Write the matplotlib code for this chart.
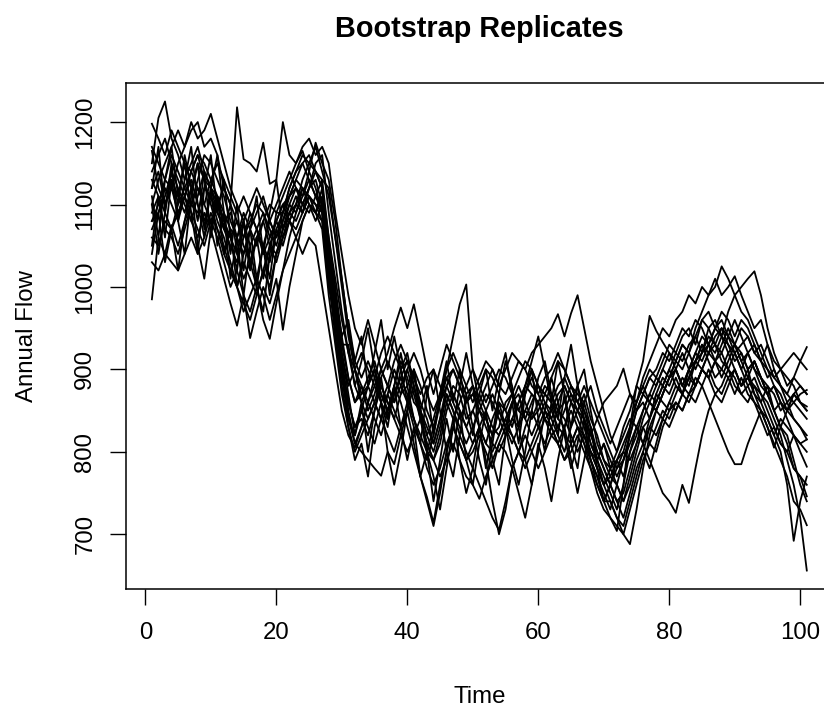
import matplotlib
matplotlib.use('Agg')
import matplotlib.pyplot as plt
import numpy as np

plt.rcParams['font.family'] = ['Liberation Sans', 'DejaVu Sans']

# time index 1..101
time = np.arange(1, 102)

# bootstrap replicates of annual flow (rows of 10 values)
rep01 = [1150, 1205, 1225, 1180, 1160, 1130, 1150, 1170, 1140, 1120,
         1090, 1075, 1060, 1040, 1010, 1030, 1060, 1050, 1030, 1070,
         1090, 1120, 1140, 1150, 1130, 1110, 1090, 1030, 980, 930,
         890, 860, 880, 850, 870, 900, 880, 860, 900, 920,
         880, 840, 800, 790, 820, 860, 880, 870, 840, 850,
         830, 810, 840, 860, 850, 830, 860, 880, 870, 860,
         840, 850, 870, 880, 860, 850, 870, 840, 820, 790,
         770, 760, 740, 770, 800, 830, 840, 860, 880, 870,
         890, 870, 890, 910, 920, 930, 920, 940, 930, 910,
         920, 900, 910, 890, 880, 870, 850, 860, 840, 830,
         820]
rep02 = [1080, 1100, 1130, 1120, 1150, 1170, 1190, 1200, 1170, 1180,
         1160, 1120, 1100, 1218, 1155, 1150, 1140, 1175, 1125, 1130,
         1200, 1160, 1150, 1165, 1140, 1175, 1150, 1130, 1080, 1010,
         950, 900, 870, 880, 900, 870, 850, 880, 910, 890,
         860, 850, 830, 810, 840, 880, 900, 880, 860, 870,
         850, 840, 820, 830, 860, 870, 850, 840, 860, 880,
         870, 860, 880, 890, 870, 860, 850, 830, 800, 780,
         760, 740, 750, 780, 810, 840, 860, 850, 870, 890,
         900, 880, 900, 920, 910, 930, 950, 940, 920, 930,
         910, 920, 900, 890, 870, 880, 860, 850, 870, 860,
         850]
rep03 = [985, 1060, 1040, 1075, 1050, 1080, 1100, 1090, 1120, 1110,
         1080, 1060, 1030, 1000, 980, 960, 990, 1020, 1000, 1040,
         1060, 1080, 1100, 1090, 1110, 1100, 1080, 1000, 960, 920,
         870, 820, 860, 800, 850, 890, 840, 880, 830, 790,
         830, 770, 800, 740, 790, 840, 800, 850, 790, 760,
         810, 850, 790, 760, 820, 860, 810, 870, 900, 840,
         800, 860, 820, 870, 810, 780, 840, 790, 760, 740,
         740, 720, 700, 730, 760, 790, 810, 800, 830, 850,
         860, 850, 870, 880, 900, 890, 910, 900, 890, 900,
         880, 890, 870, 860, 880, 850, 830, 820, 790, 760,
         740]
rep04 = [1198, 1180, 1160, 1190, 1170, 1150, 1140, 1160, 1150, 1130,
         1110, 1090, 1070, 1060, 1080, 1050, 1070, 1090, 1060, 1080,
         1100, 1110, 1130, 1120, 1100, 1090, 1110, 1050, 990, 940,
         960, 910, 940, 880, 920, 960, 900, 940, 900, 860,
         900, 850, 880, 820, 870, 910, 860, 900, 850, 820,
         870, 900, 850, 890, 920, 870, 830, 880, 910, 940,
         900, 860, 910, 870, 830, 880, 900, 850, 810, 790,
         780, 790, 770, 800, 820, 850, 870, 860, 880, 900,
         880, 870, 900, 910, 930, 920, 940, 950, 930, 920,
         930, 940, 920, 910, 900, 890, 880, 860, 870, 880,
         870]
rep05 = [1120, 1140, 1100, 1130, 1110, 1090, 1120, 1150, 1130, 1100,
         1070, 1050, 1020, 1000, 1030, 1010, 990, 1020, 1050, 1030,
         1060, 1090, 1080, 1100, 1120, 1130, 1100, 1020, 970, 900,
         860, 830, 850, 880, 860, 840, 870, 900, 880, 860,
         830, 810, 790, 820, 860, 900, 940, 979, 1003, 900,
         860, 840, 820, 850, 830, 860, 880, 860, 840, 850,
         870, 860, 840, 830, 860, 880, 850, 820, 800, 780,
         760, 790, 800, 830, 860, 880, 900, 890, 910, 930,
         920, 940, 950, 930, 960, 970, 950, 960, 940, 930,
         950, 940, 920, 930, 910, 890, 900, 910, 920, 910,
         927]
rep06 = [1060, 1050, 1080, 1070, 1090, 1110, 1080, 1060, 1090, 1070,
         1040, 1010, 980, 953, 990, 938, 970, 1000, 980, 1010,
         948, 1000, 1040, 1080, 1100, 1090, 1120, 1040, 980, 910,
         850, 810, 830, 860, 840, 820, 850, 880, 860, 830,
         800, 770, 745, 714, 760, 800, 830, 810, 790, 800,
         820, 800, 780, 810, 830, 820, 800, 830, 850, 830,
         810, 830, 850, 840, 820, 800, 820, 790, 770, 750,
         730, 760, 790, 820, 850, 860, 840, 870, 890, 880,
         900, 920, 900, 880, 900, 920, 930, 910, 900, 920,
         900, 880, 890, 870, 860, 840, 820, 790, 760, 720,
         656]
rep07 = [1090, 1110, 1070, 1060, 1040, 1070, 1100, 1120, 1100, 1080,
         1060, 1030, 1000, 1020, 990, 970, 1000, 960, 937, 980,
         1020, 1060, 1090, 1110, 1140, 1120, 1090, 1010, 950, 890,
         840, 820, 850, 830, 810, 840, 870, 850, 830, 850,
         880, 850, 820, 800, 830, 870, 850, 820, 800, 780,
         760, 740, 720, 705, 740, 780, 800, 790, 810, 830,
         850, 840, 820, 800, 830, 850, 840, 810, 790, 770,
         750, 730, 760, 800, 830, 810, 840, 870, 860, 850,
         870, 890, 880, 910, 930, 910, 890, 900, 920, 900,
         880, 900, 870, 850, 830, 810, 790, 770, 740, 730,
         711]
rep08 = [1170, 1150, 1130, 1160, 1140, 1120, 1100, 1130, 1160, 1150,
         1130, 1110, 1080, 1060, 1090, 1070, 1050, 1080, 1100, 1090,
         1110, 1130, 1150, 1170, 1180, 1160, 1170, 1150, 1090, 1040,
         990, 950, 930, 960, 930, 900, 920, 950, 975, 950,
         979, 940, 900, 870, 900, 930, 910, 890, 870, 880,
         860, 880, 900, 880, 870, 890, 910, 900, 880, 870,
         890, 900, 920, 900, 880, 870, 860, 880, 850, 830,
         810, 830, 850, 870, 860, 890, 910, 930, 950, 940,
         960, 970, 990, 980, 1000, 990, 1010, 990, 1000, 1013,
         990, 970, 950, 960, 930, 910, 900, 890, 880, 860,
         855]
rep09 = [1050, 1110, 1060, 1130, 1080, 1040, 1110, 1150, 1070, 1120,
         1160, 1090, 1040, 1100, 1020, 1070, 1110, 1040, 1090, 1130,
         1070, 1100, 1120, 1100, 1090, 1110, 1130, 1060, 1000, 940,
         890, 860, 870, 890, 910, 880, 860, 840, 870, 900,
         870, 840, 810, 790, 810, 850, 870, 850, 830, 850,
         870, 850, 830, 820, 840, 860, 870, 840, 820, 840,
         860, 850, 830, 820, 810, 830, 810, 790, 770, 740,
         720, 710, 700, 688, 730, 780, 820, 850, 870, 890,
         910, 930, 920, 950, 970, 990, 1000, 1025, 1010, 990,
         970, 960, 940, 920, 900, 880, 870, 850, 840, 830,
         815]
rep10 = [1165, 1120, 1100, 1120, 1090, 1110, 1130, 1100, 1080, 1110,
         1090, 1070, 1050, 1030, 1060, 1090, 1070, 1040, 1060, 1080,
         1100, 1080, 1100, 1130, 1150, 1140, 1120, 1040, 990, 930,
         930, 880, 910, 950, 900, 860, 830, 880, 920, 880,
         840, 810, 870, 900, 850, 800, 770, 820, 870, 830,
         790, 760, 810, 860, 830, 790, 760, 800, 850, 890,
         910, 870, 840, 890, 930, 880, 840, 810, 790, 810,
         780, 800, 820, 840, 830, 850, 870, 890, 880, 900,
         920, 910, 930, 940, 920, 950, 960, 940, 970, 990,
         1000, 1010, 1019, 990, 950, 920, 900, 880, 890, 910,
         900]
rep11 = [1080, 1090, 1110, 1140, 1120, 1100, 1080, 1110, 1140, 1120,
         1100, 1080, 1090, 1060, 1040, 1070, 1090, 1110, 1080, 1060,
         1080, 1110, 1120, 1100, 1120, 1140, 1130, 1120, 1060, 1000,
         940, 900, 860, 840, 860, 890, 910, 890, 870, 880,
         900, 880, 850, 830, 860, 890, 900, 880, 860, 870,
         890, 910, 900, 880, 900, 920, 910, 900, 920, 930,
         940, 950, 967, 940, 968, 990, 950, 910, 880, 850,
         820, 800, 830, 850, 880, 870, 890, 900, 920, 910,
         930, 950, 940, 960, 950, 930, 950, 970, 960, 940,
         960, 950, 930, 910, 930, 900, 880, 870, 860, 850,
         840]
rep12 = [1100, 1040, 1090, 1150, 1080, 1130, 1170, 1100, 1060, 1120,
         1050, 1090, 1010, 1060, 990, 1050, 1000, 970, 1040, 1090,
         1090, 1110, 1130, 1150, 1160, 1140, 1120, 1060, 1010, 960,
         920, 900, 880, 860, 890, 920, 940, 920, 900, 910,
         890, 860, 840, 810, 840, 870, 850, 830, 810, 830,
         850, 870, 860, 840, 820, 840, 860, 880, 900, 880,
         860, 840, 860, 880, 860, 840, 820, 800, 790, 810,
         790, 770, 790, 810, 830, 810, 790, 770, 750, 740,
         726, 760, 738, 780, 820, 850, 870, 860, 880, 900,
         880, 890, 910, 890, 870, 850, 860, 840, 820, 800,
         782]
rep13 = [1140, 1160, 1180, 1150, 1130, 1110, 1140, 1160, 1130, 1120,
         1110, 1080, 1060, 1080, 1050, 1030, 1060, 1080, 1050, 1040,
         1070, 1090, 1110, 1090, 1120, 1150, 1160, 1090, 1030, 970,
         920, 880, 860, 880, 900, 870, 850, 870, 890, 870,
         840, 820, 800, 830, 860, 880, 860, 840, 860, 880,
         850, 830, 810, 800, 820, 840, 830, 850, 870, 860,
         840, 820, 830, 850, 870, 850, 830, 800, 780, 760,
         770, 790, 810, 830, 860, 880, 860, 850, 870, 890,
         900, 880, 870, 890, 880, 860, 840, 820, 800, 785,
         785, 810, 830, 850, 830, 805, 830, 850, 860, 870,
         875]
rep14 = [1070, 1090, 1120, 1100, 1080, 1110, 1090, 1070, 1050, 1080,
         1100, 1120, 1100, 1080, 1060, 1080, 1100, 1090, 1070, 1050,
         1080, 1100, 1090, 1120, 1110, 1090, 1080, 1020, 960, 900,
         840, 810, 800, 790, 780, 771, 800, 785, 820, 850,
         900, 850, 800, 770, 730, 780, 830, 880, 920, 880,
         830, 780, 820, 870, 910, 880, 830, 790, 760, 800,
         850, 890, 860, 820, 780, 810, 860, 830, 790, 760,
         780, 760, 740, 760, 790, 810, 830, 850, 840, 860,
         880, 870, 890, 910, 900, 920, 910, 890, 910, 930,
         910, 890, 880, 870, 850, 830, 810, 800, 780, 770,
         760]
rep15 = [1130, 1110, 1090, 1070, 1100, 1120, 1140, 1120, 1100, 1130,
         1150, 1130, 1110, 1090, 1110, 1090, 1070, 1050, 1080, 1100,
         1120, 1140, 1120, 1110, 1130, 1110, 1100, 1030, 970, 920,
         880, 900, 920, 900, 880, 860, 880, 910, 930, 910,
         890, 870, 890, 900, 880, 860, 840, 860, 880, 900,
         880, 860, 880, 900, 890, 870, 850, 870, 890, 870,
         850, 830, 810, 830, 850, 830, 810, 780, 750, 730,
         720, 704, 760, 830, 880, 910, 965, 947, 933, 920,
         910, 900, 920, 940, 960, 950, 930, 920, 940, 920,
         900, 920, 900, 880, 870, 850, 830, 810, 780, 770,
         746]
rep16 = [1100, 1130, 1150, 1170, 1190, 1170, 1200, 1180, 1190, 1210,
         1180, 1150, 1120, 1100, 1080, 1100, 1120, 1100, 1080, 1060,
         1090, 1120, 1140, 1160, 1150, 1170, 1140, 1110, 1060, 1010,
         950, 910, 890, 910, 890, 860, 840, 870, 890, 910,
         880, 850, 820, 840, 870, 890, 870, 850, 830, 810,
         830, 850, 870, 850, 830, 810, 830, 850, 840, 860,
         880, 870, 850, 860, 880, 860, 840, 820, 840, 860,
         870, 880, 901, 870, 850, 870, 890, 880, 900, 920,
         900, 880, 900, 920, 940, 930, 910, 930, 950, 930,
         920, 900, 910, 890, 870, 880, 860, 850, 870, 860,
         850]
rep17 = [1040, 1090, 1030, 1070, 1020, 1080, 1120, 1050, 1010, 1070,
         1110, 1040, 1070, 1000, 1040, 1070, 1010, 1050, 990, 1040,
         1070, 1090, 1100, 1120, 1100, 1080, 1100, 1030, 970, 910,
         860, 830, 840, 820, 850, 880, 860, 840, 820, 800,
         820, 840, 810, 790, 770, 790, 810, 790, 770, 760,
         743, 770, 790, 810, 800, 780, 800, 820, 800, 780,
         800, 820, 810, 790, 800, 820, 800, 780, 760, 740,
         760, 780, 800, 790, 810, 830, 810, 830, 850, 840,
         860, 850, 870, 860, 880, 900, 880, 870, 890, 870,
         890, 870, 860, 840, 820, 830, 810, 800, 820, 810,
         800]
rep18 = [1110, 1060, 1130, 1170, 1110, 1150, 1090, 1040, 1120, 1160,
         1090, 1130, 1060, 1020, 1080, 1030, 1000, 1050, 1010, 1070,
         1050, 1080, 1070, 1090, 1110, 1100, 1090, 1010, 940, 880,
         830, 800, 820, 840, 860, 840, 820, 800, 830, 860,
         840, 810, 780, 760, 780, 810, 830, 810, 790, 810,
         830, 810, 800, 820, 840, 820, 800, 780, 800, 820,
         840, 830, 810, 790, 810, 830, 820, 800, 780, 760,
         740, 720, 710, 740, 770, 800, 780, 810, 840, 830,
         850, 870, 860, 880, 900, 890, 910, 920, 900, 880,
         870, 860, 880, 860, 840, 820, 800, 760, 692, 740,
         770]
rep19 = [1030, 1020, 1040, 1030, 1020, 1040, 1060, 1040, 1060, 1090,
         1070, 1040, 1020, 1000, 970, 990, 1010, 990, 960, 990,
         1020, 1040, 1060, 1080, 1100, 1090, 1070, 990, 930, 870,
         830, 790, 810, 770, 830, 860, 800, 760, 800, 850,
         810, 770, 740, 710, 750, 800, 840, 790, 750, 780,
         830, 790, 740, 700, 730, 780, 750, 720, 760, 810,
         780, 740, 790, 830, 790, 750, 790, 830, 780, 740,
         760, 740, 720, 750, 780, 800, 830, 820, 840, 860,
         850, 870, 890, 880, 900, 890, 870, 880, 900, 890,
         870, 880, 860, 850, 840, 820, 840, 830, 820, 810,
         815]
rep20 = [1120, 1170, 1090, 1140, 1100, 1160, 1120, 1080, 1140, 1060,
         1110, 1070, 1100, 1040, 1080, 1020, 1060, 1010, 1050, 1080,
         1060, 1080, 1060, 1040, 1060, 1050, 1000, 950, 900, 850,
         820, 805, 830, 860, 880, 900, 880, 860, 880, 900,
         920, 900, 870, 850, 870, 900, 920, 900, 880, 860,
         880, 900, 890, 870, 850, 870, 890, 910, 900, 880,
         870, 890, 910, 900, 880, 860, 880, 860, 840, 820,
         800, 780, 790, 820, 850, 870, 860, 880, 900, 890,
         910, 930, 920, 900, 920, 940, 930, 950, 940, 960,
         940, 920, 930, 910, 890, 900, 880, 870, 890, 880,
         870]

replicates = [rep01, rep02, rep03, rep04, rep05, rep06, rep07, rep08, rep09, rep10,
              rep11, rep12, rep13, rep14, rep15, rep16, rep17, rep18, rep19, rep20]

W, H = 824, 707
fig = plt.figure(figsize=(W / 100, H / 100), dpi=100)
# plot region runs past the right edge of the picture, as in the original
ax = fig.add_axes([125.7 / W, 1 - 589.3 / H, (833 - 125.7) / W, (589.3 - 82.7) / H])

for rep in replicates:
    ax.plot(time, rep, color='black', linewidth=1.3)

# R style 4% padding
ymin = min(min(r) for r in replicates)
ymax = max(max(r) for r in replicates)
pad = 0.04 * (ymax - ymin)
ax.set_xlim(-3, 105)
ax.set_ylim(ymin - pad, ymax + pad)

ax.set_xticks([0, 20, 40, 60, 80, 100])
ax.set_yticks([700, 800, 900, 1000, 1100, 1200])
ax.tick_params(direction='out', length=11.2, width=1, labelsize=17.3)
ax.tick_params(axis='x', pad=12)
ax.tick_params(axis='y', pad=10)
for lab in ax.get_yticklabels():
    lab.set_rotation(90)
    lab.set_va('center')
for s in ax.spines.values():
    s.set_linewidth(1.1)

fig.text(479.4 / W, 1 - 37 / H, 'Bootstrap Replicates', ha='center', va='baseline',
         fontsize=20.8, fontweight='bold')
fig.text(479.4 / W, 1 - 703.3 / H, 'Time', ha='center', va='baseline', fontsize=17.3)
fig.text(33.3 / W, 1 - 336.5 / H, 'Annual Flow', ha='center', va='baseline',
         fontsize=17.3, rotation=90, rotation_mode='anchor')

fig.savefig('out.png', dpi=100)
